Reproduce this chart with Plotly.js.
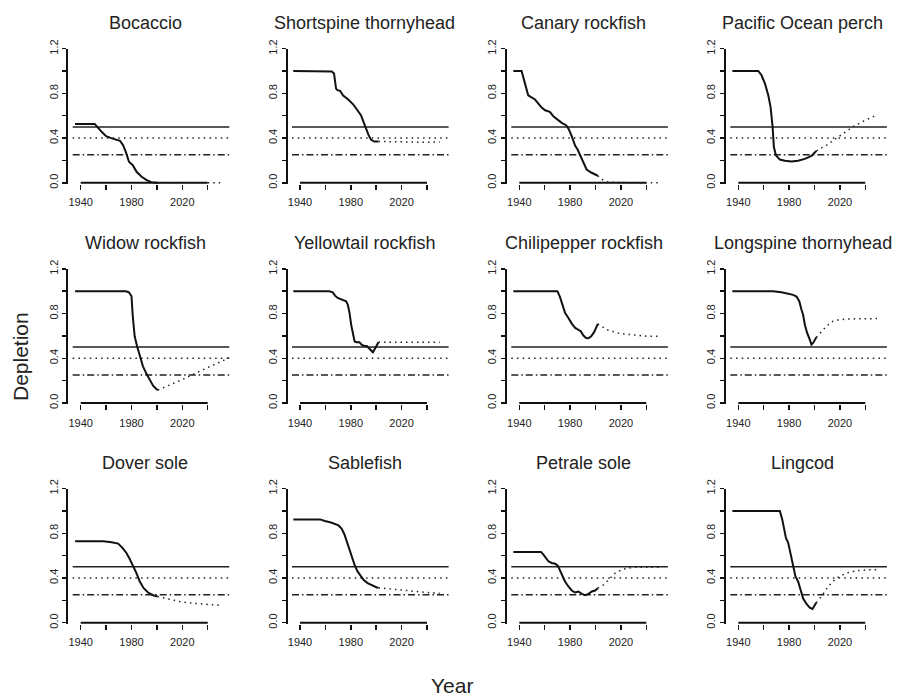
<!DOCTYPE html>
<html>
<head>
<meta charset="utf-8">
<script src="https://cdn.plot.ly/plotly-3.0.1.min.js"></script>
<style>html,body{margin:0;padding:0;background:#fff;}#chart{width:897px;height:699px;}</style>
</head>
<body>
<div id="chart"></div>
<script>
// ---------------- DATA ----------------
const panelTitles = ["Bocaccio","Shortspine thornyhead","Canary rockfish","Pacific Ocean perch",
  "Widow rockfish","Yellowtail rockfish","Chilipepper rockfish","Longspine thornyhead",
  "Dover sole","Sablefish","Petrale sole","Lingcod"];

const xTickVals = [1940,1960,1980,2000,2020,2040];
const xTickText = ["1940","","1980","","2020",""];
const yTickVals = [0,0.2,0.4,0.6,0.8,1.0,1.2];
const yTickText = ["0.0","","0.4","","0.8","","1.2"];

const refLevels = [0.5, 0.4, 0.25];   // solid, dotted, dash-dot
const refYears = [1933.7, 2057];

// Bocaccio
const bocaccioYears = [1935.5,1951,1956.5,1960,1964,1971,1973.4,1975.5,1978,1981,1984,1988,1992,1995.6,1999.5,2001];
const bocaccioHist  = [0.527,0.527,0.456,0.417,0.40,0.375,0.336,0.277,0.188,0.158,0.098,0.054,0.024,0.006,0.0,0.0];
const bocaccioProjYears = [2001,2010,2020,2030,2040,2050];
const bocaccioProj      = [0.0,0.0,0.0,0.0,0.0,0.0];

// Shortspine thornyhead
const shortspineYears = [1934.7,1963,1965,1966.8,1968.4,1969.5,1971.6,1974,1978,1982,1985,1988,1990,1991.8,1994,1995.8,1998.4,2001.8];
const shortspineHist  = [1.0,1.0,0.995,0.977,0.843,0.828,0.822,0.78,0.745,0.70,0.655,0.605,0.545,0.485,0.426,0.387,0.369,0.37];
const shortspineProjYears = [2001.8,2010,2020,2030,2040,2050];
const shortspineProj      = [0.37,0.368,0.362,0.36,0.362,0.365];

// Canary rockfish
const canaryYears = [1935.3,1941.8,1944.5,1947,1949,1952.4,1955,1957.6,1960.3,1964,1966.8,1970,1973.4,1976.8,1978.7,1981.3,1984,1985.8,1988,1990.5,1993,1996.6,1999.7,2001.8];
const canaryHist  = [1.0,1.0,0.887,0.783,0.768,0.745,0.709,0.673,0.649,0.634,0.596,0.566,0.536,0.515,0.485,0.417,0.331,0.30,0.247,0.173,0.119,0.092,0.074,0.063];
const canaryProjYears = [2001.8,2005,2010,2020,2030,2040,2051];
const canaryProj      = [0.063,0.03,0.005,0.0,0.0,0.0,0.0];

// Pacific Ocean perch
const popYears = [1935.3,1955.7,1958.3,1961,1963.6,1965.4,1967,1968,1969.6,1972.7,1976.6,1981.9,1987,1992.4,1997.6,2001.5];
const popHist  = [1.0,1.0,0.962,0.887,0.783,0.679,0.50,0.32,0.247,0.208,0.197,0.19,0.197,0.214,0.241,0.286];
const popProjYears = [2001.5,2010,2020,2030,2040,2050];
const popProj      = [0.286,0.34,0.42,0.50,0.56,0.61];

// Widow rockfish
const widowYears = [1935.6,1975.5,1978,1980,1981,1982.5,1984.4,1986.5,1989,1991.7,1994.3,1997,1999.5,2000.8];
const widowHist  = [1.0,1.0,0.99,0.955,0.776,0.597,0.507,0.418,0.328,0.263,0.203,0.155,0.125,0.116];
const widowProjYears = [2000.8,2010,2020,2030,2040,2050,2057];
const widowProj      = [0.116,0.16,0.21,0.265,0.315,0.365,0.405];

// Yellowtail rockfish
const yellowtailYears = [1934.7,1963,1965.8,1967.6,1969.7,1972,1974.2,1976.3,1977.6,1979,1980.3,1981.6,1983,1984.7,1986.8,1988.7,1990.8,1992.6,1995.3,1997.4,1999.2,2001.8];
const yellowtailHist  = [1.0,1.0,0.99,0.96,0.94,0.93,0.92,0.91,0.88,0.806,0.70,0.61,0.55,0.543,0.543,0.52,0.51,0.51,0.478,0.454,0.49,0.543];
const yellowtailProjYears = [2001.8,2010,2020,2030,2040,2050];
const yellowtailProj      = [0.543,0.543,0.543,0.543,0.543,0.543];

// Chilipepper rockfish
const chilipepperYears = [1935.3,1970,1972,1974.2,1976,1978.7,1981.3,1984,1986.6,1988.4,1990.5,1992.6,1994.5,1996.6,1999,2001,2001.8];
const chilipepperHist  = [1.0,1.0,0.949,0.88,0.806,0.761,0.71,0.672,0.651,0.642,0.603,0.582,0.579,0.597,0.636,0.687,0.707];
const chilipepperProjYears = [2001.8,2010,2019.5,2030,2040.5,2052];
const chilipepperProj      = [0.707,0.651,0.621,0.606,0.597,0.597];

// Longspine thornyhead
const longspineYears = [1935.3,1967.5,1974,1979.3,1983.2,1985.8,1988,1989.7,1991,1992.4,1994.2,1996.3,1997.6,1998.9,2000.2,2001.5];
const longspineHist  = [1.0,1.0,0.99,0.976,0.967,0.952,0.91,0.836,0.79,0.70,0.627,0.567,0.522,0.537,0.561,0.588];
const longspineProjYears = [2001.5,2005.4,2009.4,2014.6,2019.8,2027.7,2038.2,2049.2];
const longspineProj      = [0.588,0.642,0.687,0.731,0.746,0.752,0.755,0.755];

// Dover sole
const doverYears = [1935.6,1957.8,1964.3,1969.5,1972.9,1976,1978.6,1981.3,1983.9,1986.5,1989.6,1993,1997,2000.5];
const doverHist  = [0.729,0.729,0.72,0.708,0.669,0.624,0.57,0.51,0.444,0.369,0.309,0.27,0.246,0.234];
const doverProjYears = [2000.5,2010,2017.8,2028.3,2038.7,2049];
const doverProj      = [0.234,0.21,0.189,0.174,0.165,0.156];

// Sablefish
const sablefishYears = [1934.7,1955.8,1959.7,1965,1970.3,1972.9,1975,1976.8,1979,1980.8,1982.9,1985.3,1987.4,1990,1993.2,1996.6,2000.5,2001.8];
const sablefishHist  = [0.924,0.924,0.909,0.894,0.87,0.84,0.789,0.729,0.654,0.579,0.519,0.459,0.42,0.384,0.354,0.333,0.315,0.312];
const sablefishProjYears = [2001.8,2010,2020,2030,2040,2050];
const sablefishProj      = [0.312,0.303,0.288,0.279,0.27,0.264];

// Petrale sole
const petraleYears = [1935.3,1957.1,1959,1961,1962.9,1965.5,1968.2,1970.3,1972.1,1974.2,1976,1978.7,1981.3,1983.9,1986.6,1989.2,1991.8,1994.5,1997.1,1999.7,2001.8];
const petraleHist  = [0.633,0.633,0.609,0.579,0.549,0.534,0.528,0.51,0.468,0.414,0.369,0.324,0.288,0.27,0.279,0.258,0.246,0.258,0.279,0.288,0.309];
const petraleProjYears = [2001.8,2006.3,2010.3,2015.5,2022.1,2030,2040.5,2049.7];
const petraleProj      = [0.309,0.339,0.384,0.444,0.48,0.495,0.495,0.495];

// Lingcod
const lingcodYears = [1935.3,1972.7,1974.6,1976.1,1977.5,1979.3,1981.1,1983.2,1985,1987.1,1989.2,1991,1993.7,1996.3,1998.4,2000.2,2001.5];
const lingcodHist  = [1.0,1.0,0.924,0.834,0.759,0.714,0.609,0.504,0.414,0.369,0.279,0.219,0.168,0.135,0.123,0.15,0.18];
const lingcodProjYears = [2001.5,2005.4,2010.7,2017.2,2025,2033,2043.4,2050];
const lingcodProj      = [0.18,0.234,0.324,0.399,0.444,0.465,0.474,0.474];

const histYears = [bocaccioYears,shortspineYears,canaryYears,popYears,widowYears,yellowtailYears,chilipepperYears,longspineYears,doverYears,sablefishYears,petraleYears,lingcodYears];
const histVals  = [bocaccioHist,shortspineHist,canaryHist,popHist,widowHist,yellowtailHist,chilipepperHist,longspineHist,doverHist,sablefishHist,petraleHist,lingcodHist];
const projYears = [bocaccioProjYears,shortspineProjYears,canaryProjYears,popProjYears,widowProjYears,yellowtailProjYears,chilipepperProjYears,longspineProjYears,doverProjYears,sablefishProjYears,petraleProjYears,lingcodProjYears];
const projVals  = [bocaccioProj,shortspineProj,canaryProj,popProj,widowProj,yellowtailProj,chilipepperProj,longspineProj,doverProj,sablefishProj,petraleProj,lingcodProj];

// ---------------- LAYOUT ----------------
const W = 897, H = 699;
const FONT = "Liberation Sans, Arial, Helvetica, sans-serif";
const INK = "#111";
const colTick1940 = [80.7, 300, 519.3, 738.3];
const rowZero = [182.8, 403, 622.7];
const pxPerYear = 1.27, pxPerUnit = 111.8;
const xRange = [1930.2, 2057.5];
const yRange = [-0.012, 1.2];

const traces = [];
const layout = {
  width: W, height: H,
  margin: {l:0, r:0, t:0, b:0},
  paper_bgcolor: "#fff", plot_bgcolor: "#fff",
  showlegend: false,
  font: {family: FONT, color: "#222"},
  annotations: []
};

for (let i = 0; i < 12; i++) {
  const r = Math.floor(i / 4), c = i % 4;
  const sfx = i === 0 ? "" : String(i + 1);
  const xa = "x" + sfx, ya = "y" + sfx;
  const left = colTick1940[c] - (1940 - xRange[0]) * pxPerYear;
  const right = left + (xRange[1] - xRange[0]) * pxPerYear;
  const bottom = rowZero[r] - yRange[0] * pxPerUnit;
  const top = rowZero[r] - yRange[1] * pxPerUnit;

  layout["xaxis" + sfx] = {
    domain: [left / W, right / W], range: xRange, anchor: ya,
    showline: false, showgrid: false, zeroline: false,
    tickmode: "array", tickvals: xTickVals, ticktext: xTickText,
    ticks: "outside", ticklen: 5, tickwidth: 1.5, tickcolor: INK,
    ticklabelstandoff: 3,
    tickfont: {family: FONT, size: 11, color: "#222"}, fixedrange: true
  };
  layout["yaxis" + sfx] = {
    domain: [1 - bottom / H, 1 - top / H], range: yRange, anchor: xa,
    showline: true, linewidth: 2, linecolor: INK,
    showgrid: false, zeroline: false,
    tickmode: "array", tickvals: yTickVals, ticktext: yTickText,
    ticks: "outside", ticklen: 4, tickwidth: 1.5, tickcolor: INK, tickangle: -90,
    tickfont: {family: FONT, size: 11, color: "#222"}, fixedrange: true
  };

  const base = {xaxis: xa, yaxis: ya, mode: "lines", hoverinfo: "skip", type: "scatter"};
  // reference lines
  traces.push(Object.assign({}, base, {x: refYears, y: [refLevels[0], refLevels[0]], line: {color: "#222", width: 1.5}}));
  traces.push(Object.assign({}, base, {x: refYears, y: [refLevels[1], refLevels[1]], line: {color: "#222", width: 1.5, dash: "1.5px,4.2px"}}));
  traces.push(Object.assign({}, base, {x: refYears, y: [refLevels[2], refLevels[2]], line: {color: "#222", width: 1.5, dash: "7px,3px,1.5px,3px"}}));
  // x axis line (R style: first to last tick)
  traces.push(Object.assign({}, base, {x: [xTickVals[0], xTickVals[xTickVals.length - 1]], y: [0, 0], line: {color: INK, width: 2}}));
  // projection
  traces.push(Object.assign({}, base, {x: projYears[i], y: projVals[i], line: {color: "#222", width: 1.5, dash: "1.5px,4px"}}));
  // history
  traces.push(Object.assign({}, base, {x: histYears[i], y: histVals[i], line: {color: INK, width: 2}}));

  // panel title
  layout.annotations.push({
    xref: "paper", yref: "paper", x: (colTick1940[c] + 64.5) / W, y: 1 - [23, 243.3, 463.3][r] / H,
    xanchor: "center", yanchor: "middle", showarrow: false,
    text: panelTitles[i], font: {family: FONT, size: 18, color: "#222"}
  });
}

layout.annotations.push({
  xref: "paper", yref: "paper", x: 20 / W, y: 1 - 357 / H, xanchor: "center", yanchor: "middle",
  showarrow: false, textangle: -90, text: "Depletion", font: {family: FONT, size: 21, color: "#222"}
});
layout.annotations.push({
  xref: "paper", yref: "paper", x: 452 / W, y: 1 - 685 / H, xanchor: "center", yanchor: "middle",
  showarrow: false, text: "Year", font: {family: FONT, size: 21, color: "#222"}
});

Plotly.newPlot("chart", traces, layout, {staticPlot: true, displayModeBar: false});
</script>
</body>
</html>
